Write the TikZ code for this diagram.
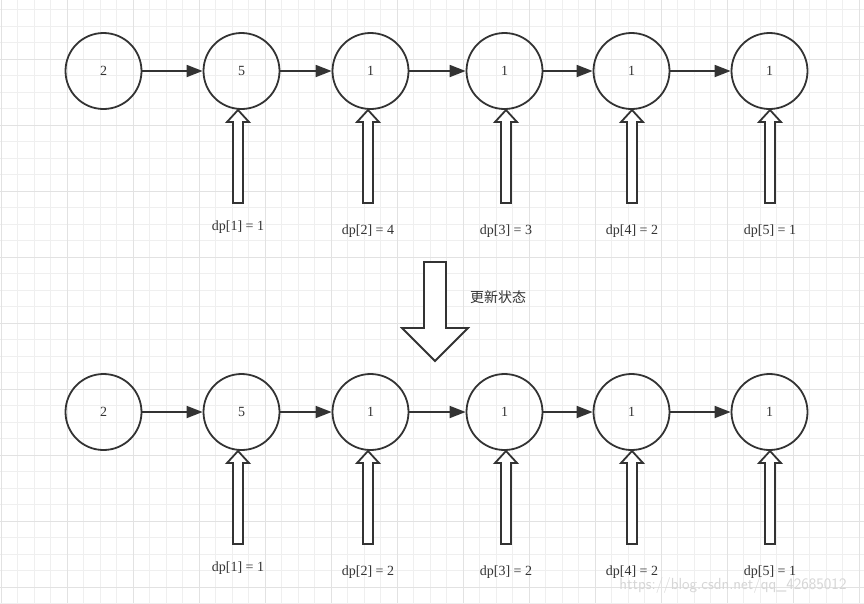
\documentclass[tikz,border=0pt]{standalone}
\usepackage{fontspec}
\setmainfont{Liberation Serif}
\newfontfamily\cjk{Noto Sans CJK SC}
\usetikzlibrary{arrows.meta,shapes.arrows}
\definecolor{ink}{HTML}{333333}
\definecolor{gridminor}{HTML}{EFEFEF}
\definecolor{gridmajor}{HTML}{E2E2E2}
\tikzset{
  cnode/.style={circle,draw=ink,line width=1.8pt,minimum size=76pt,inner sep=0pt,font=\fontsize{14}{14}\selectfont,text=ink},
  link/.style={draw=ink,line width=1.8pt,-{Triangle[length=16pt,width=12pt]}},
  hollowup/.style={draw=ink,line width=1.8pt,fill=white},
  lbl/.style={font=\fontsize{14}{14}\selectfont,text=ink,inner sep=0pt},
}
\begin{document}
\begin{tikzpicture}[x=1pt,y=-1pt]
\useasboundingbox (0,0) rectangle (864,603);
\fill[white] (0,0) rectangle (864,603);
% grid
\foreach \i in {0,...,52} {\draw[gridminor,line width=0.8pt] ({1+16.5*\i},0) -- ({1+16.5*\i},603);}
\foreach \i in {0,...,36} {\draw[gridminor,line width=0.8pt] (0,{9.5+16.5*\i}) -- (864,{9.5+16.5*\i});}
\foreach \i in {0,...,13} {\draw[gridmajor,line width=0.8pt] ({1+66*\i},0) -- ({1+66*\i},603);}
\foreach \i in {0,...,9} {\draw[gridmajor,line width=0.8pt] (0,{-7+66*\i}) -- (864,{-7+66*\i});}

% top row
\node[cnode] (a1) at (103.5,71) {2};
\node[cnode] (a2) at (241.5,71) {5};
\node[cnode] (a3) at (370.5,71) {1};
\node[cnode] (a4) at (504.5,71) {1};
\node[cnode] (a5) at (631.5,71) {1};
\node[cnode] (a6) at (769.5,71) {1};
\draw[link] (a1) -- (a2);
\draw[link] (a2) -- (a3);
\draw[link] (a3) -- (a4);
\draw[link] (a4) -- (a5);
\draw[link] (a5) -- (a6);

% bottom row
\node[cnode] (b1) at (103.5,412) {2};
\node[cnode] (b2) at (241.5,412) {5};
\node[cnode] (b3) at (370.5,412) {1};
\node[cnode] (b4) at (504.5,412) {1};
\node[cnode] (b5) at (631.5,412) {1};
\node[cnode] (b6) at (769.5,412) {1};
\draw[link] (b1) -- (b2);
\draw[link] (b2) -- (b3);
\draw[link] (b3) -- (b4);
\draw[link] (b4) -- (b5);
\draw[link] (b5) -- (b6);

% hollow up arrows
\foreach \x/\t in {238/a,368/b,506/c,632/d,770/e} {
  \draw[hollowup] (\x-5,203) -- (\x-5,122) -- (\x-11,122) -- (\x,110) -- (\x+11,122) -- (\x+5,122) -- (\x+5,203) -- cycle;
  \draw[hollowup] (\x-5,544) -- (\x-5,463) -- (\x-11,463) -- (\x,451) -- (\x+11,463) -- (\x+5,463) -- (\x+5,544) -- cycle;
}

% labels top
\node[lbl] (la1) at (238,227) {dp[1] = 1};
\node[lbl] (la2) at (368,231) {dp[2] = 4};
\node[lbl] (la3) at (506,231) {dp[3] = 3};
\node[lbl] (la4) at (632,231) {dp[4] = 2};
\node[lbl] (la5) at (770,231) {dp[5] = 1};
% labels bottom
\node[lbl] (lb1) at (238,568) {dp[1] = 1};
\node[lbl] (lb2) at (368,572) {dp[2] = 2};
\node[lbl] (lb3) at (506,572) {dp[3] = 2};
\node[lbl] (lb4) at (632,572) {dp[4] = 2};
\node[lbl] (lb5) at (770,572) {dp[5] = 1};

% big down arrow
\draw[hollowup] (424,262) -- (446,262) -- (446,328) -- (468,328) -- (435,361) -- (402,328) -- (424,328) -- cycle;
\node[lbl,font=\cjk\fontsize{14}{14}\selectfont] (upd) at (498,297) {更新状态};

% watermark
\node[inner sep=0pt,font=\fontfamily{lmss}\selectfont\fontsize{16}{16}\selectfont,text=black!16] (wm) at (733,585) {https://blog.csdn.net/qq\_42685012};
\end{tikzpicture}
\end{document}
